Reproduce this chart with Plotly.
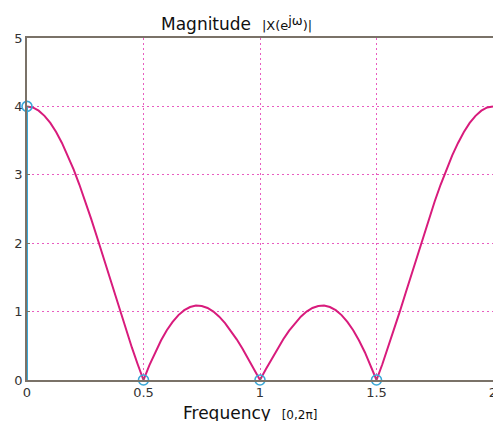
import plotly.graph_objects as go

# Frequency axis (units of pi), continuous magnitude
freq = [0.0, 0.025, 0.05, 0.075, 0.1, 0.125, 0.15, 0.175, 0.2, 0.225,
        0.25, 0.275, 0.3, 0.325, 0.35, 0.375, 0.4, 0.425, 0.45, 0.475,
        0.5, 0.525, 0.55, 0.575, 0.6, 0.625, 0.65, 0.675, 0.7, 0.725,
        0.75, 0.775, 0.8, 0.825, 0.85, 0.875, 0.9, 0.925, 0.95, 0.975,
        1.0, 1.025, 1.05, 1.075, 1.1, 1.125, 1.15, 1.175, 1.2, 1.225,
        1.25, 1.275, 1.3, 1.325, 1.35, 1.375, 1.4, 1.425, 1.45, 1.475,
        1.5, 1.525, 1.55, 1.575, 1.6, 1.625, 1.65, 1.675, 1.7, 1.725,
        1.75, 1.775, 1.8, 1.825, 1.85, 1.875, 1.9, 1.925, 1.95, 1.975, 2.0]
magnitude = [4.000, 3.985, 3.938, 3.862, 3.758, 3.625, 3.466, 3.283, 3.078, 2.854,
             2.613, 2.359, 2.095, 1.824, 1.548, 1.273, 1.000, 0.733, 0.476, 0.230,
             0.000, 0.213, 0.406, 0.578, 0.727, 0.850, 0.949, 1.021, 1.067, 1.088,
             1.082, 1.053, 1.000, 0.926, 0.832, 0.721, 0.595, 0.457, 0.310, 0.157,
             0.000, 0.157, 0.310, 0.457, 0.595, 0.721, 0.832, 0.926, 1.000, 1.053,
             1.082, 1.088, 1.067, 1.021, 0.949, 0.850, 0.727, 0.578, 0.406, 0.213,
             0.000, 0.230, 0.476, 0.733, 1.000, 1.273, 1.548, 1.824, 2.095, 2.359,
             2.613, 2.854, 3.078, 3.283, 3.466, 3.625, 3.758, 3.862, 3.938, 3.985, 4.000]

# DFT samples (stem plot)
sample_freq = [0.0, 0.5, 1.0, 1.5]
sample_mag = [4.0, 0.0, 0.0, 0.0]

x_ticks = [0, 0.5, 1, 1.5, 2]
x_tick_labels = ["0", "0.5", "1", "1.5", "2"]
y_ticks = [0, 1, 2, 3, 4, 5]
y_tick_labels = ["0", "1", "2", "3", "4", "5"]

CURVE = "#d81b7c"
CYAN = "#3aa8d8"
GRID = "#e85cc0"
AXIS = "#7a7268"
FONT = "DejaVu Sans"

stem_x, stem_y = [], []
for fx, fy in zip(sample_freq, sample_mag):
    stem_x += [fx, fx, None]
    stem_y += [0, fy, None]

fig = go.Figure()
fig.add_trace(go.Scatter(x=freq, y=magnitude, mode="lines",
                         line=dict(color=CURVE, width=2), hoverinfo="skip"))
fig.add_trace(go.Scatter(x=stem_x, y=stem_y, mode="lines",
                         line=dict(color=CYAN, width=2), hoverinfo="skip"))
fig.add_trace(go.Scatter(x=sample_freq, y=sample_mag, mode="markers",
                         marker=dict(symbol="circle-open", size=10,
                                     color=CYAN, line=dict(width=1.6, color=CYAN)),
                         cliponaxis=False, hoverinfo="skip"))

axis_common = dict(showline=True, linecolor=AXIS, linewidth=1.5, mirror=True,
                   showgrid=True, gridcolor=GRID, gridwidth=1, griddash="2px,3px",
                   zeroline=False, ticks="inside", ticklen=3, tickcolor=AXIS,
                   automargin=False, ticklabeloverflow="allow",
                   tickfont=dict(family=FONT, size=13, color="#333333"))

fig.update_layout(
    width=493, height=421,
    margin=dict(l=27, r=0, t=38, b=41),
    paper_bgcolor="white", plot_bgcolor="white",
    showlegend=False,
    xaxis=dict(range=[0, 2], tickvals=x_ticks, ticktext=x_tick_labels, **axis_common),
    yaxis=dict(range=[0, 5], tickvals=y_ticks, ticktext=y_tick_labels, **axis_common),
    annotations=[
        dict(text="Magnitude  <span style='font-size:13px'>|X(e<sup><span style='font-size:13px'>jω</span></sup>)|</span>",
             xref="paper", yref="paper", x=0.449, y=1, xanchor="center", yanchor="bottom",
             yshift=2, showarrow=False, font=dict(family=FONT, size=17, color="#111111")),
        dict(text="Frequency  <span style='font-size:12px'>[0,2π]</span>",
             xref="paper", yref="paper", x=0.478, y=0, xanchor="center", yanchor="top",
             yshift=-21, showarrow=False, font=dict(family=FONT, size=17, color="#111111")),
    ],
)

fig.write_html(
    "out.html",
    config={"displayModeBar": False},
    post_script="document.body.style.margin='0';document.body.style.overflow='hidden';",
)
